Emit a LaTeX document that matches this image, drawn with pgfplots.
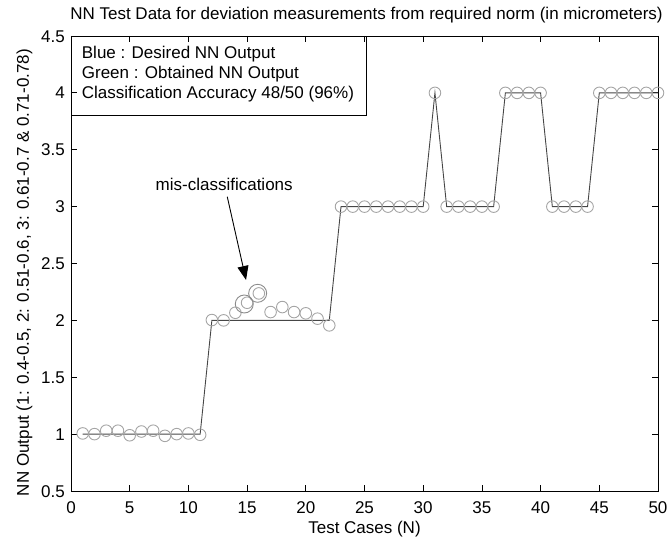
\documentclass[border=0pt]{standalone}
\usepackage{fontspec}
\setmainfont{Liberation Sans}
\usepackage{pgfplots}
\usepackage{pgfplotstable}
\pgfplotsset{compat=1.18}
\usetikzlibrary{arrows.meta}
\newcommand\fs{\fontsize{17bp}{20bp}\selectfont}
\definecolor{linec}{RGB}{70,70,70}
\definecolor{markc}{RGB}{165,165,165}
\pgfplotstableread{
x y
1 1
2 1
3 1
4 1
5 1
6 1
7 1
8 1
9 1
10 1
11 1
12 2
13 2
14 2
15 2
16 2
17 2
18 2
19 2
20 2
21 2
22 2
23 3
24 3
25 3
26 3
27 3
28 3
29 3
30 3
31 4
32 3
33 3
34 3
35 3
36 3
37 4
38 4
39 4
40 4
41 3
42 3
43 3
44 3
45 4
46 4
47 4
48 4
49 4
50 4
}\desired
\pgfplotstableread{
x y
1 1.006
2 1.0
3 1.03
4 1.03
5 0.99
6 1.023
7 1.03
8 0.985
9 1.0
10 1.006
11 0.994
12 2.003
13 2.0
14 2.067
15 2.155
16 2.237
17 2.073
18 2.117
19 2.073
20 2.062
21 2.015
22 1.956
23 3
24 3
25 3
26 3
27 3
28 3
29 3
30 3
31 4
32 3
33 3
34 3
35 3
36 3
37 4
38 4
39 4
40 4
41 3
42 3
43 3
44 3
45 4
46 4
47 4
48 4
49 4
50 4
}\obtained
\begin{document}
\begin{tikzpicture}
\path[use as bounding box] (-71bp,-48bp) rectangle (597bp,491bp);
\begin{axis}[
 scale only axis, width=587bp, height=455bp,
 xmin=0, xmax=50, ymin=0.5, ymax=4.5,
 xtick={0,5,...,50}, ytick={0.5,1,1.5,2,2.5,3,3.5,4,4.5},
 tick align=inside, major tick length=6bp,
 axis line style={black, line width=0.9bp},
 every tick/.style={black, line width=0.8bp},
 /pgf/number format/assume math mode=true,
 ticklabel style={font=\fs, inner sep=0pt},
 xticklabel style={anchor=base, yshift=-22.3bp},
 yticklabel style={anchor=base east, xshift=-6bp, yshift=-6.1bp},
 title={NN Test Data for deviation measurements from required norm (in micrometers)},
 title style={font=\fs, at={([yshift=11bp,xshift=2bp]axis description cs:0.5,1)}, anchor=base, inner sep=0pt},
 xlabel={Test Cases (N)},
 xlabel style={font=\fs, at={([yshift=-42bp]axis description cs:0.5,0)}, anchor=base, inner sep=0pt},
 ylabel={NN Output (1: 0.4-0.5, 2: 0.51-0.6, 3: 0.61-0.7 \& 0.71-0.78)},
 ylabel style={font=\fs, at={([xshift=-42bp]axis description cs:0,0.48)}, anchor=base, inner sep=0pt},
 clip=false,
]
\addplot[markc, line width=0.9bp, only marks, mark=o, mark size=5.8bp] table {\obtained};
\addplot[markc!85!black, line width=0.9bp, only marks, mark=o, mark size=9bp] coordinates {(14.76,2.144) (15.9,2.238)};
\addplot[linec, line width=0.9bp, mark=none] table {\desired};
\draw[black, line width=0.8bp] (rel axis cs:0,1) rectangle (rel axis cs:0.5037,0.8264);
\node[anchor=base west, font=\fs, inner sep=0pt] at (axis cs:0.911,4.302) {Blue : Desired NN Output};
\node[anchor=base west, font=\fs, inner sep=0pt] at (axis cs:0.911,4.126) {Green : Obtained NN Output};
\node[anchor=base west, font=\fs, inner sep=0pt] at (axis cs:0.911,3.95) {Classification Accuracy 48/50 (96\%)};
\node[anchor=base, font=\fs, inner sep=0pt] at (axis cs:13.05,3.14) {mis-classifications};
\draw[-{Triangle[length=14bp,width=11bp]}, black, line width=0.9bp] (axis cs:13.31,3.087) -- (axis cs:14.91,2.355);
\end{axis}
\end{tikzpicture}
\end{document}
